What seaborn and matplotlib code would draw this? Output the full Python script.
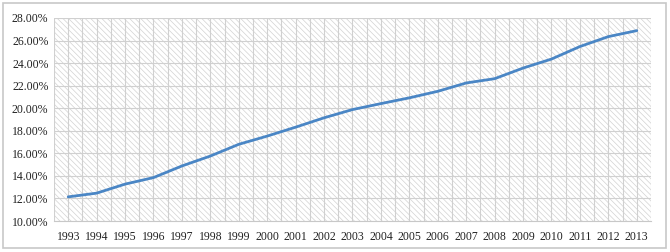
import numpy as np
import pandas as pd
import seaborn as sns
import matplotlib.pyplot as plt
import matplotlib.patches as mpatches
from matplotlib.ticker import FuncFormatter, MultipleLocator

years = list(range(1993, 2014))
share = [12.14, 12.47, 13.27, 13.85, 14.88, 15.76, 16.80, 17.53, 18.32, 19.15,
         19.88, 20.41, 20.92, 21.50, 22.24, 22.62, 23.56, 24.36, 25.47, 26.35, 26.88]
y_ticks = [10, 12, 14, 16, 18, 20, 22, 24, 26, 28]

df = pd.DataFrame({"year": years, "share": share})

sns.set_theme(style="white")
plt.rcParams['font.family'] = ['Liberation Serif', 'DejaVu Serif']

fig = plt.figure(figsize=(6.7, 2.52), dpi=100)
fig.patch.set_facecolor("white")
ax = fig.add_axes([54 / 670, 1 - 221 / 252, 597 / 670, 203 / 252])

# hatched background like the Excel plot area
plt.rcParams['hatch.linewidth'] = 0.5
bg = mpatches.Rectangle((0, 0), 1, 1, transform=ax.transAxes, facecolor="white",
                        edgecolor="#d2d2d2", hatch="\\" * 6, linewidth=0, zorder=0)
ax.add_patch(bg)

sns.lineplot(data=df, x="year", y="share", ax=ax, color="#4a86c5", linewidth=2.0, zorder=3)

ax.set_xlim(1992.5, 2013.5)
ax.set_ylim(10, 28)
ax.set_xticks(years)
ax.set_xticklabels([str(y) for y in years])
ax.set_yticks(y_ticks)
ax.yaxis.set_major_formatter(FuncFormatter(lambda v, p: f"{v:.2f}%"))
ax.xaxis.set_minor_locator(MultipleLocator(0.5))

ax.grid(True, which="major", axis="y", color="#d0d0d0", linewidth=0.8, zorder=1)
ax.grid(True, which="both", axis="x", color="#d0d0d0", linewidth=0.8, zorder=1)
ax.set_axisbelow(True)

for s in ["top", "right", "left"]:
    ax.spines[s].set_visible(False)
ax.spines["bottom"].set_color("#c8c8c8")
ax.spines["bottom"].set_linewidth(0.8)

ax.tick_params(axis="both", which="both", length=0, labelsize=8.5, colors="#222222")
ax.tick_params(axis="x", pad=7)
ax.tick_params(axis="y", pad=4)
ax.set_xlabel("")
ax.set_ylabel("")

# outer chart border
fig.add_artist(mpatches.Rectangle((3 / 670, 4 / 252), 663 / 670, 245 / 252,
                                  transform=fig.transFigure, fill=False,
                                  edgecolor="#c8c8c8", linewidth=1.2))

fig.savefig("out.png", dpi=100)
